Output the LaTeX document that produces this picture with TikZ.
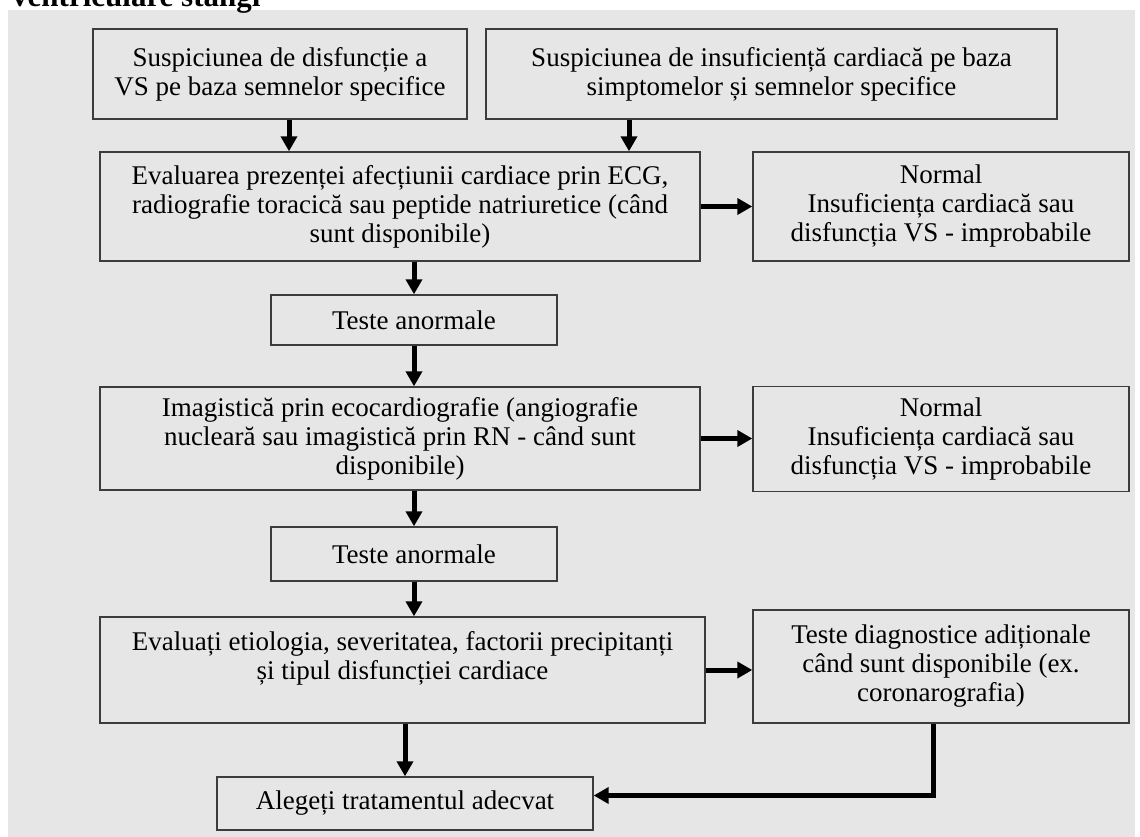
\documentclass[tikz,border=0pt]{standalone}
\usepackage{fontspec}
\setmainfont{Liberation Serif}
\usetikzlibrary{arrows.meta}
\definecolor{panel}{HTML}{E6E6E6}
\definecolor{edge}{HTML}{3C3C3C}

\begin{document}
\begin{tikzpicture}[x=1pt,y=-1pt,
    box/.style={draw=edge, line width=1.4pt, align=center, inner sep=0pt,
        font=\fontsize{27}{29}\selectfont},
    arr/.style={line width=5pt, -{Triangle[length=15pt,width=16pt]}}]
    \useasboundingbox (0,0) rectangle (1140,837);

    % Draw the gray panel and the cut title
    \fill[panel] (8,10) rectangle (1135,837);
    \node[anchor=base west, inner sep=0pt, font=\bfseries\fontsize{31}{31}\selectfont] (title) at (12,7) {ventriculare stângi};

    % Top boxes
    \node[box, minimum width=374pt, minimum height=90pt] (susVS) at (280,74)
        {Suspiciunea de disfuncție a\\VS pe baza semnelor specifice};
    \node[box, minimum width=571pt, minimum height=90pt] (susIC) at (771.5,74)
        {Suspiciunea de insuficiență cardiacă pe baza\\simptomelor și semnelor specifice};

    % First evaluation
    \node[box, minimum width=600pt, minimum height=109pt] (evalECG) at (400,206.5)
        {Evaluarea prezenței afecțiunii cardiace prin ECG,\\radiografie toracică sau peptide natriuretice (când\\sunt disponibile)};
    \node[box, minimum width=376pt, minimum height=109pt] (normA) at (941,206.5)
        {Normal\\Insuficiența cardiacă sau\\disfuncția VS - improbabile};
    \node[box, minimum width=286pt, minimum height=50pt] (anorA) at (414,320)
        {Teste anormale};

    % Imaging
    \node[box, minimum width=600pt, minimum height=103pt] (imag) at (400,438.5)
        {Imagistică prin ecocardiografie (angiografie\\nucleară sau imagistică prin RN - când sunt\\disponibile)};
    \node[box, minimum width=376pt, minimum height=105pt] (normB) at (941,439)
        {Normal\\Insuficiența cardiacă sau\\disfuncția VS - improbabile};
    \node[box, minimum width=286pt, minimum height=54pt] (anorB) at (414,554)
        {Teste anormale};

    % Etiology and treatment
    \node[box, minimum width=605pt, minimum height=106pt] (etio) at (402.5,670)
        {Evaluați etiologia, severitatea, factorii precipitanți\\și tipul disfuncției cardiace\\\mbox{}};
    \node[box, minimum width=376pt, minimum height=113pt] (diag) at (941,666.5)
        {Teste diagnostice adiționale\\când sunt disponibile (ex.\\coronarografia)};
    \node[box, minimum width=376pt, minimum height=53pt] (trat) at (405,803.5)
        {Alegeți tratamentul adecvat};

    % Draw the arrows
    \draw[arr] ([xshift=9pt]susVS.south) -- ([xshift=9pt]susVS.south |- evalECG.north);
    \draw[arr] ([xshift=-142.5pt]susIC.south) -- ([xshift=-142.5pt]susIC.south |- evalECG.north);
    \draw[arr] (evalECG.east) -- (evalECG.east -| normA.west);
    \draw[arr] (anorA.north |- evalECG.south) -- (anorA.north);
    \draw[arr] (anorA.south) -- (anorA.south |- imag.north);
    \draw[arr] (imag.east) -- (imag.east -| normB.west);
    \draw[arr] (anorB.north |- imag.south) -- (anorB.north);
    \draw[arr] (anorB.south) -- (anorB.south |- etio.north);
    \draw[arr] (etio.east) -- (etio.east -| diag.west);
    \draw[arr] (trat.north |- etio.south) -- (trat.north);

    % Return line from the extra tests
    \coordinate (diagOut) at ([xshift=-8pt]diag.south);
    \draw[arr] (diagOut) |- ([yshift=8pt]trat.east);
\end{tikzpicture}
\end{document}
